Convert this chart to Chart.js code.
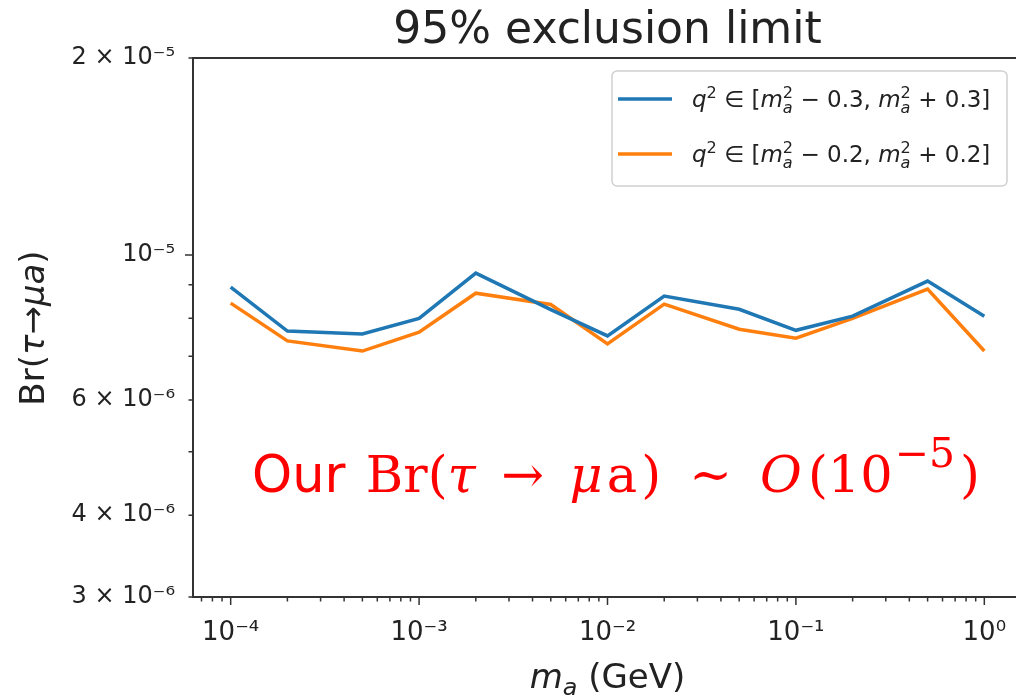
<!DOCTYPE html>
<html>
<head>
<meta charset="utf-8">
<script src="https://cdn.jsdelivr.net/npm/chart.js@4.4.0/dist/chart.umd.min.js"></script>
<style>
  html, body { margin: 0; padding: 0; overflow: hidden; background: #fff; }
  canvas { display: block; }
</style>
</head>
<body>
<canvas id="limitChart" width="1030" height="698"></canvas>
<script>
/* 95% CL upper limit on Br(tau -> mu a) versus ALP mass. */
const massGeV  = [1e-4, 2e-4, 5e-4, 1e-3, 2e-3, 5e-3, 1e-2, 2e-2, 5e-2, 1e-1, 2e-1, 5e-1, 1];
const qWindows = [0.3, 0.2];
const brWide   = [8.93e-6, 7.65e-6, 7.57e-6, 8.00e-6, 9.38e-6, 8.25e-6, 7.52e-6, 8.65e-6, 8.26e-6, 7.67e-6, 8.06e-6, 9.12e-6, 8.06e-6];
const brNarrow = [8.44e-6, 7.39e-6, 7.13e-6, 7.62e-6, 8.74e-6, 8.40e-6, 7.31e-6, 8.41e-6, 7.70e-6, 7.46e-6, 8.00e-6, 8.87e-6, 7.13e-6];
const lineColors = ['#1f77b4', '#ff7f0e'];

const xMajor       = [1e-4, 1e-3, 1e-2, 1e-1, 1];
const xMajorLabels = ['10⁻⁴', '10⁻³', '10⁻²', '10⁻¹', '10⁰'];
const yTicks       = [3e-6, 4e-6, 5e-6, 6e-6, 7e-6, 8e-6, 9e-6, 1e-5, 2e-5];
const yTickLabels  = ['3 × 10⁻⁶', '4 × 10⁻⁶', '', '6 × 10⁻⁶', '', '', '', '10⁻⁵', '2 × 10⁻⁵'];

// log-axis minor ticks: 2..9 times each decade (plus the three below 1e-4)
const xTicks = [7e-5, 8e-5, 9e-5];
xMajor.forEach(d => { for (let k = 1; k <= 9; k++) if (d * k <= 1.5) xTicks.push(d * k); });

const sameVal = (a, b) => Math.abs(Math.log10(a) - Math.log10(b)) < 1e-6;
const isDecade = v => Math.abs(Math.log10(v) - Math.round(Math.log10(v))) < 1e-6;

// draws a row of text runs (italic, superscript, stacked sup/sub) on one baseline
function drawRich(ctx, runs, x, y, opt) {
  const size = opt.size, fam = opt.family;
  const fontOf = (s, it, f) => (it ? 'italic ' : '') + s + 'px "' + (f || fam) + '"';
  const pieces = [];
  let w = 0;
  runs.forEach(r => {
    if (r.gap) { w += r.gap * size; return; }
    if (r.sup || r.sub) {
      const s = size * (r.scale || 0.7);
      ctx.font = fontOf(s, r.i, r.f);
      let adv = ctx.measureText(r.t).width;
      const dy = r.sup ? -size * (r.rise || 0.38) : size * 0.2;
      pieces.push({ t: r.t, x: w, dy, font: ctx.font });
      if (r.under) {
        ctx.font = fontOf(s, true, r.f);
        adv = Math.max(adv, ctx.measureText(r.under).width);
        pieces.push({ t: r.under, x: w, dy: size * 0.24, font: ctx.font });
      }
      w += adv;
    } else {
      ctx.font = fontOf(size, r.i, r.f);
      pieces.push({ t: r.t, x: w, dy: 0, font: ctx.font });
      w += ctx.measureText(r.t).width;
    }
  });
  const x0 = opt.align === 'center' ? x - w / 2 : x;
  ctx.textAlign = 'left';
  ctx.textBaseline = 'alphabetic';
  pieces.forEach(p => { ctx.font = p.font; ctx.fillText(p.t, x0 + p.x, y + p.dy); });
  return w;
}

function windowRuns(w) {
  const v = w.toFixed(1);
  return [
    { t: 'q', i: 1 }, { t: '2', sup: 1 }, { t: ' ∈ [' },
    { t: 'm', i: 1 }, { t: '2', sup: 1, under: 'a' }, { t: ' − ' + v + ', ' },
    { t: 'm', i: 1 }, { t: '2', sup: 1, under: 'a' }, { t: ' + ' + v + ']' }
  ];
}

// top/right frame and the outward tick marks
const axisDecor = {
  id: 'axisDecor',
  afterDraw(chart) {
    const { ctx, chartArea: a, scales: { x, y } } = chart;
    ctx.save();
    ctx.strokeStyle = '#333';
    ctx.lineWidth = 2;
    ctx.beginPath();
    ctx.moveTo(a.left, a.top); ctx.lineTo(a.right, a.top); ctx.lineTo(a.right, a.bottom);
    ctx.stroke();
    ctx.lineWidth = 1.5;
    ctx.beginPath();
    x.ticks.forEach(t => {
      const px = x.getPixelForValue(t.value);
      if (px < a.left - 1 || px > a.right + 1) return;
      ctx.moveTo(px, a.bottom); ctx.lineTo(px, a.bottom + (isDecade(t.value) ? 8 : 4.5));
    });
    y.ticks.forEach(t => {
      const py = y.getPixelForValue(t.value);
      ctx.moveTo(a.left, py); ctx.lineTo(a.left - (isDecade(t.value) ? 8 : 4.5), py);
    });
    ctx.stroke();
    ctx.restore();
  }
};

// title, axis titles, legend and the red annotation
const textLayer = {
  id: 'textLayer',
  afterDraw(chart) {
    const { ctx, chartArea: a } = chart;
    const cx = (a.left + a.right) / 2;
    ctx.save();
    ctx.fillStyle = '#222';
    drawRich(ctx, [{ t: '95% exclusion limit' }], cx, 43, { size: 44, family: 'DejaVu Sans', align: 'center' });

    drawRich(ctx, [{ t: 'm', i: 1 }, { t: 'a', sub: 1, i: 1 }, { t: ' (GeV)' }], cx, 688,
      { size: 34, family: 'DejaVu Sans', align: 'center' });

    ctx.save();
    ctx.translate(44, 328);
    ctx.rotate(-Math.PI / 2);
    drawRich(ctx, [{ t: 'Br(' }, { t: 'τ', i: 1 }, { t: '→' }, { t: 'μ', i: 1 }, { t: 'a', i: 1 }, { t: ')' }], 0, 0,
      { size: 34, family: 'DejaVu Sans', align: 'center' });
    ctx.restore();

    // legend box inside the upper right of the axes
    const bx = a.right - 410, by = a.top + 13, bw = 395, bh = 115;
    ctx.fillStyle = 'rgba(255,255,255,0.8)';
    ctx.strokeStyle = '#d0d0d0';
    ctx.lineWidth = 1.5;
    ctx.beginPath();
    ctx.roundRect(bx, by, bw, bh, 5);
    ctx.fill();
    ctx.stroke();
    chart.data.datasets.forEach((ds, i) => {
      const ly = by + 28 + i * 55;
      ctx.strokeStyle = ds.borderColor;
      ctx.lineWidth = 3.5;
      ctx.beginPath();
      ctx.moveTo(bx + 6, ly); ctx.lineTo(bx + 60, ly);
      ctx.stroke();
      ctx.fillStyle = '#222';
      drawRich(ctx, windowRuns(qWindows[i]), bx + 80, ly + 8, { size: 23, family: 'DejaVu Sans' });
    });

    ctx.fillStyle = '#ff0000';
    drawRich(ctx, [
      { t: 'Our', f: 'DejaVu Sans' }, { gap: 0.4 }, { t: 'Br(' }, { t: 'τ', i: 1 }, { gap: 0.5 }, { t: '→' }, { gap: 0.5 },
      { t: 'μ', i: 1 }, { gap: 0.08 }, { t: 'a' }, { gap: 0.08 }, { t: ')' }, { gap: 0.55 }, { t: '∼' }, { gap: 0.55 },
      { t: 'O', i: 1 }, { gap: 0.12 }, { t: '(10' }, { gap: 0.04 }, { t: '−5', sup: 1, rise: 0.5, scale: 0.8 },
      { gap: 0.1 }, { t: ')' }
    ], 252, 492, { size: 51, family: 'DejaVu Serif' });
    ctx.restore();
  }
};

const datasets = [brWide, brNarrow].map((series, i) => ({
  label: 'q² ∈ [mₐ² − ' + qWindows[i].toFixed(1) + ', mₐ² + ' + qWindows[i].toFixed(1) + ']',
  data: massGeV.map((m, k) => ({ x: m, y: series[k] })),
  borderColor: lineColors[i],
  borderWidth: 3.5,
  pointRadius: 0,
  tension: 0,
  fill: false
}));

new Chart(document.getElementById('limitChart'), {
  type: 'line',
  data: { datasets },
  options: {
    responsive: false,
    animation: false,
    events: [],
    layout: { padding: { top: 58, right: 8, left: 0, bottom: 0 } },
    plugins: { legend: { display: false }, title: { display: false }, tooltip: { enabled: false } },
    scales: {
      x: {
        type: 'logarithmic',
        min: Math.pow(10, -4.2),
        max: Math.pow(10, 0.2),
        afterBuildTicks: s => { s.ticks = xTicks.map(v => ({ value: v })); },
        afterFit: s => { s.height = 101; },
        grid: { display: false },
        border: { display: true, color: '#333', width: 2 },
        ticks: {
          autoSkip: false, maxRotation: 0, padding: 13, color: '#222',
          font: { family: 'DejaVu Sans', size: 26 },
          callback: v => { const k = xMajor.findIndex(m => sameVal(m, v)); return k < 0 ? '' : xMajorLabels[k]; }
        }
      },
      y: {
        type: 'logarithmic',
        min: 3e-6,
        max: 2e-5,
        afterBuildTicks: s => { s.ticks = yTicks.map(v => ({ value: v })); },
        afterFit: s => { s.width = 193; },
        grid: { display: false },
        border: { display: true, color: '#333', width: 2 },
        ticks: {
          autoSkip: false, padding: 10, color: '#222',
          font: { family: 'DejaVu Sans', size: 24 },
          callback: v => { const k = yTicks.findIndex(m => sameVal(m, v)); return k < 0 ? '' : yTickLabels[k]; }
        }
      }
    }
  },
  plugins: [axisDecor, textLayer]
});
</script>
</body>
</html>
